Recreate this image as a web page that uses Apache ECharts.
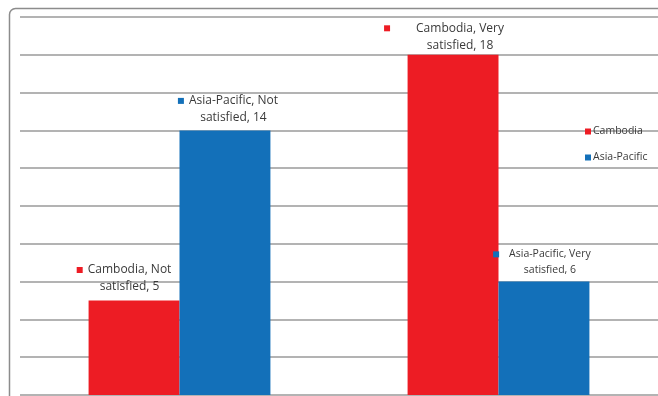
<!DOCTYPE html>
<html>
<head>
<meta charset="utf-8">
<script src="https://cdn.jsdelivr.net/npm/echarts@6/dist/echarts.min.js"></script>
<style>
  html, body { margin: 0; padding: 0; background: #fff; }
  #chart { width: 658px; height: 396px; }
</style>
</head>
<body>
<div id="chart"></div>
<script>
// Satisfaction responses, Cambodia vs Asia-Pacific
const categories = ['Not satisfied', 'Very satisfied'];
const seriesNames = ['Cambodia', 'Asia-Pacific'];
const cambodia = [5, 18];
const asiaPacific = [14, 6];
const colors = ['#ED1C24', '#1370B9'];

const FONT = '"Open Sans", "Noto Sans", sans-serif';

// Label text: "■ Series, First\nrest-of-category, value"
function labelText(p) {
  const words = p.name.split(' ');
  const first = words[0];
  const rest = words.slice(1).join(' ');
  return '{m| }{g| }{t|' + p.seriesName + ', ' + first + '}\n{sp| }{g| }{t|' + rest + ', ' + p.value + '}';
}

function richFor(color, size, gap) {
  return {
    m: { width: 6, height: 6, backgroundColor: color, verticalAlign: 'middle' },
    sp: { width: 6, height: 6 },
    g: { width: gap },
    t: { fontSize: size, color: '#3a3a3a', fontFamily: FONT, lineHeight: size + 5 }
  };
}

// per-bar label placement
const camLabels = [
  { offset: [-10, -1], rich: richFor(colors[0], 12, 5) },
  { offset: [-9, 3], rich: richFor(colors[0], 12, 26) }
];
const apLabels = [
  { offset: [3, 0], rich: richFor(colors[1], 12, 5) },
  { offset: [-2, 0], rich: richFor(colors[1], 10.5, 10) }
];

function buildData(values, labels) {
  return values.map((v, i) => ({
    value: v,
    label: {
      show: true,
      position: 'top',
      distance: 4,
      align: 'center',
      offset: labels[i].offset,
      formatter: labelText,
      rich: labels[i].rich
    }
  }));
}

const chart = echarts.init(document.getElementById('chart'), null, { renderer: 'canvas' });
chart.setOption({
  animation: false,
  backgroundColor: '#fff',
  graphic: [{
    type: 'rect',
    z: -10,
    shape: { x: 9.5, y: 8.5, width: 720, height: 440, r: 6 },
    style: { fill: 'none', stroke: '#8c8c8c', lineWidth: 1.5 }
  }],
  legend: {
    orient: 'vertical',
    left: 580,
    top: 121,
    itemWidth: 6,
    itemHeight: 6,
    itemGap: 15,
    icon: 'rect',
    textStyle: { fontSize: 10.5, color: '#3a3a3a', fontFamily: FONT, padding: [0, 0, 0, -3] },
    data: seriesNames
  },
  grid: { left: 20, right: 0, top: 17, bottom: 1, containLabel: false },
  xAxis: {
    type: 'category',
    data: categories,
    axisLine: { show: false },
    axisTick: { show: false },
    axisLabel: { show: false }
  },
  yAxis: {
    type: 'value',
    min: 0,
    max: 20,
    interval: 2,
    axisLine: { show: false },
    axisTick: { show: false },
    axisLabel: { show: false },
    splitLine: { lineStyle: { color: '#9a9a9a', width: 1.6 } }
  },
  series: [
    {
      name: seriesNames[0],
      type: 'bar',
      barGap: '0%',
      barCategoryGap: '43%',
      itemStyle: { color: colors[0] },
      data: buildData(cambodia, camLabels)
    },
    {
      name: seriesNames[1],
      type: 'bar',
      barGap: '0%',
      barCategoryGap: '43%',
      itemStyle: { color: colors[1] },
      data: buildData(asiaPacific, apLabels)
    }
  ]
});
</script>
</body>
</html>
